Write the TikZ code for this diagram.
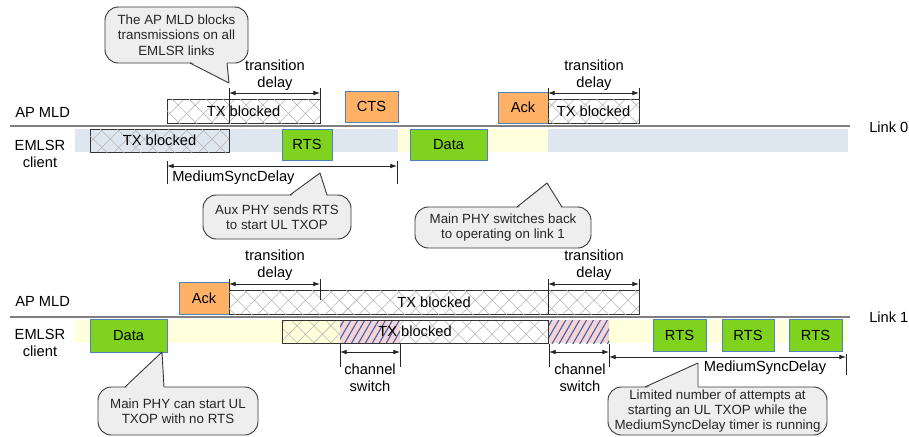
\documentclass[tikz,border=0pt]{standalone}
\usepackage{fontspec}
\setmainfont{Liberation Sans}
\usetikzlibrary{arrows.meta, calc, fit, patterns.meta}
\definecolor{FrameOrange}{HTML}{FFB266}
\definecolor{FrameGreen}{HTML}{7FD31E}
\definecolor{FrameEdge}{HTML}{4F81BD}
\definecolor{BandBlue}{HTML}{DEE6EF}
\definecolor{BandYellow}{HTML}{FFFFDC}
\definecolor{SwitchPink}{HTML}{F9D3D3}
\definecolor{SwitchBlue}{HTML}{2F62B0}
\definecolor{HatchGray}{HTML}{B4B4B4}
\definecolor{NoteFill}{HTML}{EEEEEE}
\definecolor{NoteEdge}{HTML}{3A3A3A}
\definecolor{SepGray}{HTML}{7F7F7F}

\tikzset{
  hatch/.style={pattern={Lines[angle=45, distance=9pt, line width=0.4pt]}, pattern color=HatchGray,
    postaction={pattern={Lines[angle=-45, distance=9pt, line width=0.4pt]}, pattern color=HatchGray}},
  blocked/.style={hatch, draw=black!80, line width=0.6pt, inner sep=0pt},
  apblocked/.style={blocked, preaction={fill=white}},
  switching/.style={fill=SwitchPink,
    postaction={pattern={Lines[angle=60, distance=4.5pt, line width=0.8pt]}, pattern color=SwitchBlue}},
  ctrlfr/.style={draw=FrameEdge, line width=0.6pt, fill=FrameOrange, inner sep=0pt},
  datafr/.style={draw=FrameEdge, line width=0.6pt, fill=FrameGreen, inner sep=0pt},
  sepline/.style={draw=SepGray, line width=1.2pt},
  dimline/.style={{Latex[length=5pt, width=3.5pt]}-{Latex[length=5pt, width=3.5pt]}, line width=0.6pt, draw=black!85},
  tickline/.style={line width=0.6pt, draw=black!85},
  dimlabel/.style={align=center, inner sep=0pt},
  note/.style={draw=NoteEdge, fill=NoteFill, line width=0.7pt, rounded corners=10pt, inner sep=0pt},
  notetext/.style={align=center, inner sep=0pt, text=black!85, font=\fontsize{10}{11.5}\selectfont},
  noteline/.style={draw=NoteEdge, line width=0.7pt, line join=round}
}

\begin{document}
\begin{tikzpicture}[x=0.75pt, y=-0.75pt, every node/.style={font=\fontsize{11}{13}\selectfont}]
  \useasboundingbox (0,0) rectangle (909,436);

  % Client bands
  \fill[BandBlue] (75,129) rectangle (848,152);
  \fill[BandYellow] (398,129) rectangle (548,152);
  \fill[BandYellow] (75,320) rectangle (848,343);

  % Link separators and lane labels
  \draw[sepline] (10,126) -- (850,126);
  \draw[sepline] (10,317) -- (850,317);
  \node[anchor=west, inner sep=0pt] (link0) at (869,127) {Link 0};
  \node[anchor=west, inner sep=0pt] (link1) at (869,317) {Link 1};
  \node[anchor=west, inner sep=0pt] (ap0) at (15,112) {AP MLD};
  \node[align=center, inner sep=0pt] (cli0) at (40,154) {EMLSR\\client};
  \node[anchor=west, inner sep=0pt] (ap1) at (15,301) {AP MLD};
  \node[align=center, inner sep=0pt] (cli1) at (40,343) {EMLSR\\client};

  % ---- Link 0 ----
  % AP MLD
  \node[apblocked, fit={(167,99) (320,123)}, label=center:TX blocked] (apblk0a) {};
  \node[ctrlfr, fit={(345,91) (398,122)}, label=center:CTS] (cts0) {};
  \node[ctrlfr, fit={(498,92) (548,123)}, label=center:Ack] (ack0) {};
  \node[apblocked, fit={(548,99) (639,123)}, label=center:TX blocked] (apblk0b) {};
  % EMLSR client
  \node[blocked, fit={(90,129) (229,152)}, label=center:TX blocked] (cliblk0) {};
  \node[datafr, fit={(282,129) (332,160)}, label=center:RTS] (rts0) {};
  \node[datafr, fit={(410,129) (487,160)}, label=center:Data] (data0) {};

  % Transition delays
  \draw[tickline] (229,88) -- (229,123);
  \draw[tickline] (320,88) -- (320,99);
  \draw[tickline] (548,88) -- (548,99);
  \draw[tickline] (639,88) -- (639,99);
  \coordinate (tdA0) at (229,93);
  \coordinate (tdB0) at (320,93);
  \coordinate (tdC0) at (548,93);
  \coordinate (tdD0) at (639,93);
  \draw[dimline] (tdA0) -- (tdB0);
  \draw[dimline] (tdC0) -- (tdD0);
  \node[dimlabel] (tdlab0a) at (275,75) {transition\\delay};
  \node[dimlabel] (tdlab0b) at (594,75) {transition\\delay};

  % MediumSyncDelay
  \draw[tickline] (167,161) -- (167,184);
  \draw[tickline] (397,161) -- (397,184);
  \coordinate (msdA0) at (167,166);
  \coordinate (msdB0) at (397,166);
  \draw[dimline] (msdA0) -- (msdB0);
  \node[anchor=west, inner sep=0pt] (msdlab0) at (172,178) {MediumSyncDelay};

  % ---- Link 1 ----
  % AP MLD
  \node[ctrlfr, fit={(179,282) (229,314)}, label=center:Ack] (ack1) {};
  \node[apblocked, fit={(229,290) (639,314)}, label=center:TX blocked] (apblk1) {};
  % EMLSR client
  \node[datafr, fit={(90,319) (167,352)}, label=center:Data] (data1) {};
  \path[hatch] (282,320) rectangle (340,343);
  \path[hatch, preaction={fill=white}] (400,320) rectangle (548,343);
  \path[switching] (340,320) rectangle (400,343);
  \path[switching] (548,320) rectangle (609,343);
  \node[draw=black!80, line width=0.6pt, inner sep=0pt, fit={(282,320) (548,343)}, label=center:TX blocked] (cliblk1) {};
  \node[datafr, fit={(653,319) (706,351)}, label=center:RTS] (rts1a) {};
  \node[datafr, fit={(722,319) (774,351)}, label=center:RTS] (rts1b) {};
  \node[datafr, fit={(789,319) (842,351)}, label=center:RTS] (rts1c) {};

  % Transition delays
  \draw[tickline] (229,279) -- (229,290);
  \draw[tickline] (320,279) -- (320,300);
  \draw[tickline] (548,279) -- (548,314);
  \draw[tickline] (639,279) -- (639,290);
  \coordinate (tdA1) at (229,284);
  \coordinate (tdB1) at (320,284);
  \coordinate (tdC1) at (548,284);
  \coordinate (tdD1) at (639,284);
  \draw[dimline] (tdA1) -- (tdB1);
  \draw[dimline] (tdC1) -- (tdD1);
  \node[dimlabel] (tdlab1a) at (275,265) {transition\\delay};
  \node[dimlabel] (tdlab1b) at (594,265) {transition\\delay};

  % Channel switches
  \foreach \x in {340,400,549,609} {
    \draw[tickline] (\x,344) -- (\x,367);
  }
  \coordinate (csA1) at (340,352);
  \coordinate (csB1) at (400,352);
  \coordinate (csC1) at (549,352);
  \coordinate (csD1) at (609,352);
  \draw[dimline] (csA1) -- (csB1);
  \draw[dimline] (csC1) -- (csD1);
  \node[dimlabel] (cslab1a) at (370,378) {channel\\switch};
  \node[dimlabel] (cslab1b) at (580,378) {channel\\switch};

  % MediumSyncDelay
  \draw[tickline] (846,354) -- (846,375);
  \coordinate (msdA1) at (609,357);
  \coordinate (msdB1) at (846,357);
  \draw[dimline] (msdA1) -- (msdB1);
  \node[inner sep=0pt] (msdlab1) at (765,368) {MediumSyncDelay};

  % ---- Callouts ----
  \node[note, fit={(105,7) (248,63)}, label={[notetext]center:The AP MLD blocks\\transmissions on all\\EMLSR links}] (noteblk) {};
  \coordinate (noteblk tip) at (229,83);
  \fill[NoteFill] (190,61) -- (noteblk tip) -- (227,61) -- cycle;
  \draw[noteline] (190,63) -- (noteblk tip) -- (227,63);

  \node[note, fit={(203,195) (351,239)}, label={[notetext]center:Aux PHY sends RTS\\to start UL TXOP}] (noteaux) {};
  \coordinate (noteaux tip) at (320,173);
  \fill[NoteFill] (290,197) -- (noteaux tip) -- (327,197) -- cycle;
  \draw[noteline] (290,195) -- (noteaux tip) -- (327,195);

  \node[note, fit={(415,207) (591,248)}, label={[notetext]center:Main PHY switches back\\to operating on link 1}] (noteback) {};
  \coordinate (noteback tip) at (547,183);
  \fill[NoteFill] (517,209) -- (noteback tip) -- (562,209) -- cycle;
  \draw[noteline] (517,207) -- (noteback tip) -- (562,207);

  \node[note, fit={(98,387) (258,435)}, label={[notetext]center:Main PHY can start UL\\TXOP with no RTS}] (notenorts) {};
  \coordinate (notenorts tip) at (162,352);
  \fill[NoteFill] (125,389) -- (notenorts tip) -- (164,389) -- cycle;
  \draw[noteline] (125,387) -- (notenorts tip) -- (164,387);

  \node[note, fit={(608,387) (827,435)}, label={[notetext]center:Limited number of attempts at\\starting an UL TXOP while the\\MediumSyncDelay timer is running}] (notelimit) {};
  \coordinate (notelimit tip) at (698,363);
  \fill[NoteFill] (645,389) -- (notelimit tip) -- (698,389) -- cycle;
  \draw[noteline] (645,387) -- (notelimit tip) -- (698,387);
\end{tikzpicture}
\end{document}
